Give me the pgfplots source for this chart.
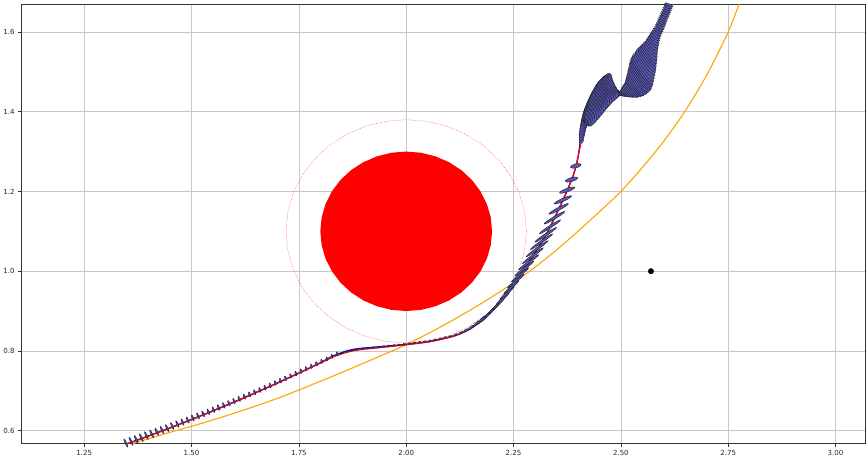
\documentclass[border=0pt]{standalone}
\usepackage{pgfplots}
\pgfplotsset{compat=1.18}
\usepackage{pgfplotstable}
\usepackage{fontspec}
\setmainfont{DejaVu Sans}
\definecolor{ellblue}{RGB}{88,88,178}
\definecolor{elledge}{RGB}{25,25,35}
\definecolor{mplorange}{RGB}{255,165,0}

\pgfplotstableread{
x y a b ang
1.335 0.5643 4.5 0.8 115
1.347 0.5689 4.45 0.8 115
1.359 0.5734 4.4 0.8 115
1.371 0.5781 4.35 0.8 115
1.383 0.5827 4.3 0.8 115
1.395 0.5874 4.2 0.8 115
1.407 0.5922 4.1 0.8 115
1.419 0.5970 4.0 0.8 115
1.431 0.6018 3.9 0.8 114
1.443 0.6067 3.8 0.8 114
1.455 0.6116 3.7 0.8 114
1.467 0.6166 3.6 0.8 113
1.479 0.6216 3.5 0.8 113
1.491 0.6267 3.4 0.8 113
1.503 0.6318 3.3 0.8 112
1.515 0.6369 3.2 0.8 112
1.527 0.6421 3.1 0.8 112
1.539 0.6474 3.0 0.8 111
1.551 0.6526 3.0 0.8 111
1.563 0.6580 2.9 0.8 111
1.575 0.6634 2.9 0.8 110
1.587 0.6688 2.8 0.8 110
1.599 0.6742 2.8 0.8 110
1.611 0.6797 2.7 0.8 109
1.623 0.6853 2.7 0.8 109
1.635 0.6909 2.6 0.8 108
1.647 0.6965 2.6 0.8 108
1.659 0.7022 2.5 0.8 107
1.671 0.7080 2.5 0.8 107
1.683 0.7137 2.5 0.8 106
1.695 0.7196 2.4 0.8 106
1.707 0.7254 2.4 0.8 105
1.719 0.7313 2.4 0.8 105
1.731 0.7373 2.3 0.8 104
1.743 0.7433 2.3 0.8 104
1.755 0.7493 2.3 0.8 103
1.767 0.7554 2.2 0.8 103
1.779 0.7615 2.2 0.8 102
1.791 0.7677 2.2 0.8 102
1.803 0.7740 2.1 0.8 100
1.815 0.7802 2.1 0.8 100
1.827 0.7865 2.0 0.8 100
1.839 0.7929 2.0 0.8 100
1.851 0.7947 1.8 0.8 15
1.863 0.7988 1.8 0.8 15
1.875 0.8018 1.8 0.8 15
1.887 0.8040 1.8 0.8 15
1.899 0.8059 1.8 0.8 15
1.911 0.8072 1.8 0.8 15
1.923 0.8085 1.8 0.8 15
1.935 0.8098 1.8 0.8 15
1.947 0.8112 1.8 0.8 15
1.959 0.8126 1.8 0.8 15
1.971 0.8140 1.8 0.8 15
1.983 0.8155 1.8 0.8 15
1.995 0.8169 1.8 0.8 15
2.007 0.8185 1.8 0.8 15
2.019 0.8202 1.8 0.8 15
2.031 0.8218 1.8 0.8 15
2.043 0.8235 1.8 0.8 15
2.055 0.8256 1.8 0.8 15
2.067 0.8282 1.8 0.8 15
2.079 0.8308 1.8 0.8 15
2.091 0.8339 1.8 0.8 15
2.103 0.8369 1.9 0.8 20
2.115 0.8406 2.0 0.8 25
2.127 0.8454 2.3 0.8 30
2.139 0.8514 2.8 0.9 35
2.151 0.8588 3.5 0.9 40
2.163 0.8678 4.5 1.0 45
2.175 0.8778 5.5 1.0 47
2.185 0.8853 7.0 1.0 47
2.195 0.8957 7.5 1.0 46
2.205 0.9070 8.0 1.0 45
2.215 0.9183 8.5 1.0 44
2.225 0.9312 9.0 1.0 43
2.235 0.9455 9.5 1.0 42
2.245 0.9598 10.0 1.0 41
2.255 0.9749 10.5 1.0 40
2.265 0.9906 11.0 1.0 39
2.275 1.0064 12.0 1.0 38
2.285 1.0221 12.5 1.0 37
2.295 1.0388 13.0 1.1 37
2.305 1.0563 13.5 1.1 36
2.315 1.0738 13.5 1.1 35
2.325 1.0913 13.0 1.2 34
2.335 1.1113 12.5 1.2 33
2.345 1.1338 12.0 1.3 31
2.355 1.1563 11.0 1.4 28
2.365 1.1788 9.5 1.5 24
2.375 1.2033 8.0 1.7 20
2.385 1.2298 6.5 1.9 16
2.395 1.2640 5.5 2.0 14
2.4079 1.3275 3.0 2.0 65
2.4091 1.3375 4.5 2.2 65
2.4102 1.3476 6.0 2.4 65
2.4126 1.3589 7.5 2.6 66
2.4149 1.3703 9.0 2.8 66
2.4173 1.3804 10.5 3.0 67
2.4196 1.3904 12.0 3.0 67
2.4219 1.4005 14.0 3.0 68
2.4243 1.4106 16.0 3.0 68
2.4266 1.4156 17.5 3.0 69
2.4290 1.4207 19.0 3.0 69
2.4313 1.4232 20.5 3.0 70
2.4336 1.4257 22.0 3.0 70
2.4371 1.4270 24.0 3.0 70
2.4406 1.4282 26.0 3.0 70
2.4442 1.4288 27.0 3.0 70
2.4477 1.4295 28.0 3.0 70
2.4512 1.4301 28.0 3.0 70
2.4547 1.4307 27.0 3.0 70
2.4582 1.4314 25.0 3.0 70
2.4617 1.4320 22.0 3.0 70
2.4652 1.4332 19.5 3.0 70
2.4687 1.4345 17.0 3.0 69
2.4722 1.4358 14.5 3.0 68
2.4757 1.4370 12.0 3.0 67
2.4792 1.4383 10.0 2.8 66
2.4827 1.4395 8.0 2.6 65
2.4863 1.4408 6.5 2.4 64
2.4898 1.4421 5.0 2.2 63
2.4933 1.4433 3.5 2.0 62
2.4968 1.4446 2.0 1.5 60
2.4991 1.4446 2.0 1.5 -45
2.5020 1.4452 3.0 1.8 -46
2.5050 1.4458 4.0 2.0 -48
2.5079 1.4471 5.0 2.1 -49
2.5108 1.4484 6.0 2.2 -50
2.5143 1.4503 7.0 2.3 -51
2.5178 1.4521 8.0 2.5 -52
2.5213 1.4540 9.0 2.5 -52
2.5249 1.4559 10.0 2.5 -53
2.5272 1.4591 11.0 2.5 -53
2.5295 1.4622 12.0 2.5 -54
2.5319 1.4654 13.0 2.5 -54
2.5342 1.4685 14.0 2.5 -55
2.5366 1.4729 15.0 2.5 -55
2.5389 1.4773 15.8 2.5 -55
2.5412 1.4817 16.5 2.5 -55
2.5436 1.4861 17.2 2.5 -55
2.5453 1.4906 17.8 2.5 -55
2.5471 1.4950 18.0 2.5 -55
2.5488 1.4994 18.0 2.5 -55
2.5506 1.5038 17.8 2.5 -55
2.5529 1.5101 17.2 2.5 -55
2.5553 1.5164 16.5 2.5 -55
2.5576 1.5227 15.8 2.5 -54
2.5599 1.5290 15.0 2.5 -54
2.5617 1.5340 14.0 2.4 -53
2.5635 1.5390 13.0 2.3 -52
2.5652 1.5441 12.0 2.3 -51
2.5670 1.5491 11.0 2.2 -50
2.5687 1.5548 10.0 2.1 -48
2.5705 1.5605 9.0 2.0 -47
2.5722 1.5661 8.2 1.9 -45
2.5740 1.5718 7.5 1.8 -44
2.5757 1.5768 7.0 1.7 -42
2.5775 1.5819 6.5 1.6 -40
2.5792 1.5869 6.0 1.5 -38
2.5810 1.5919 5.7 1.4 -36
2.5833 1.5970 5.4 1.3 -34
2.5857 1.6020 5.2 1.2 -32
2.5880 1.6071 5.0 1.2 -31
2.5904 1.6121 4.9 1.2 -30
2.5923 1.6171 4.8 1.2 -29
2.5943 1.6222 4.8 1.2 -28
2.5962 1.6272 4.7 1.2 -27
2.5981 1.6322 4.7 1.2 -27
2.6001 1.6373 4.6 1.2 -26
2.6021 1.6423 4.6 1.2 -26
2.6041 1.6474 4.5 1.2 -25
2.6060 1.6524 4.5 1.2 -25
2.6079 1.6574 4.5 1.2 -25
2.6098 1.6625 4.5 1.2 -25
2.6118 1.6675 4.5 1.2 -25
2.6138 1.6725 4.5 1.2 -25
2.6155 1.6776 4.5 1.2 -25
}\ellipses

\pgfplotstableread{
x y
1.330 0.5617
1.350 0.5670
1.400 0.5864
1.450 0.6066
1.500 0.6275
1.550 0.6492
1.600 0.6717
1.650 0.6950
1.700 0.7190
1.750 0.7438
1.800 0.7694
1.830 0.7851
1.860 0.7960
1.880 0.8010
1.900 0.8040
1.950 0.8095
2.000 0.8155
2.050 0.8225
2.080 0.8290
2.110 0.8370
2.130 0.8450
2.150 0.8560
2.170 0.8710
2.190 0.8900
2.220 0.9240
2.250 0.9670
2.290 1.0300
2.330 1.1000
2.370 1.1900
2.390 1.2430
2.400 1.2850
2.4079 1.3275
2.4149 1.3703
2.4243 1.4106
2.4336 1.4257
2.4477 1.4295
2.4617 1.4320
2.4757 1.4370
2.4898 1.4421
2.4991 1.4446
2.5108 1.4484
2.5249 1.4559
2.5342 1.4685
2.5436 1.4861
2.5506 1.5038
2.5599 1.5290
2.5670 1.5491
2.5740 1.5718
2.5810 1.5919
2.5904 1.6121
2.6021 1.6423
2.6138 1.6725
2.6173 1.6826
}\truepath

\pgfplotstableread{
x y
1.330 0.5620
1.350 0.5675
1.400 0.5870
1.450 0.6072
1.500 0.6282
1.550 0.6500
1.600 0.6725
1.650 0.6958
1.700 0.7198
1.750 0.7446
1.800 0.7705
1.830 0.7875
1.860 0.7995
1.880 0.8045
1.900 0.8070
1.950 0.8115
2.000 0.8160
2.050 0.8225
2.080 0.8290
2.110 0.8370
2.130 0.8450
2.150 0.8560
2.170 0.8710
2.190 0.8900
2.220 0.9240
2.250 0.9670
2.290 1.0300
2.330 1.1000
2.370 1.1900
2.390 1.2430
2.400 1.2850
2.4060 1.3275
2.4125 1.3703
2.4215 1.4106
2.4320 1.4240
2.4477 1.4285
2.4617 1.4315
2.4757 1.4370
2.4898 1.4421
2.4991 1.4446
2.5108 1.4484
2.5249 1.4559
2.5342 1.4685
2.5436 1.4861
2.5506 1.5038
2.5599 1.5290
2.5670 1.5491
2.5740 1.5718
2.5810 1.5919
2.5904 1.6121
2.6021 1.6423
2.6138 1.6725
2.6173 1.6826
}\estpath

\pgfplotstableread{
x y
1.355 0.565
1.40 0.580
1.45 0.596
1.50 0.611
1.55 0.627
1.60 0.644
1.65 0.662
1.70 0.681
1.75 0.702
1.80 0.724
1.85 0.746
1.90 0.769
1.95 0.792
2.00 0.816
2.05 0.843
2.10 0.872
2.15 0.903
2.20 0.936
2.25 0.971
2.30 1.010
2.35 1.053
2.40 1.100
2.45 1.149
2.50 1.200
2.55 1.260
2.60 1.326
2.65 1.402
2.70 1.492
2.75 1.600
2.78 1.684
}\orangecurve

\begin{document}
\begin{tikzpicture}
\begin{axis}[
  width=841pt, height=438pt, scale only axis,
  xmin=1.103, xmax=3.07, ymin=0.567, ymax=1.67,
  xtick={1.25,1.5,1.75,2,2.25,2.5,2.75,3},
  ytick={0.6,0.8,1.0,1.2,1.4,1.6},
  xticklabel style={/pgf/number format/fixed,/pgf/number format/fixed zerofill,/pgf/number format/precision=2},
  yticklabel style={/pgf/number format/fixed,/pgf/number format/fixed zerofill,/pgf/number format/precision=1},
  /pgf/number format/assume math mode=true,
  tick label style={font=\fontsize{7}{8}\selectfont, text=black!85},
  grid=major, grid style={color=black!22, line width=0.6pt},
  tick align=outside, tick pos=left, major tick length=3pt,
  tick style={black!80, line width=0.6pt},
  axis line style={black!80, line width=0.8pt},
]
% filled circle
\addplot[fill=red, draw=none] coordinates {
(2.2,1.1) (2.1970,1.1347) (2.1879,1.1684) (2.1732,1.2) (2.1532,1.2286) (2.1286,1.2532)
(2.1,1.2732) (2.0684,1.2879) (2.0347,1.2970) (2.0,1.3) (1.9653,1.2970) (1.9316,1.2879)
(1.9,1.2732) (1.8714,1.2532) (1.8468,1.2286) (1.8268,1.2) (1.8121,1.1684) (1.8030,1.1347)
(1.8,1.1) (1.8030,1.0653) (1.8121,1.0316) (1.8268,1.0) (1.8468,0.9714) (1.8714,0.9468)
(1.9,0.9268) (1.9316,0.9121) (1.9653,0.9030) (2.0,0.9) (2.0347,0.9030) (2.0684,0.9121)
(2.1,0.9268) (2.1286,0.9468) (2.1532,0.9714) (2.1732,1.0) (2.1879,1.0316) (2.1970,1.0653)
(2.2,1.1)} -- cycle;
% dotted circle
\addplot[red!70, line width=0.5pt, dash pattern=on 0.6pt off 1.1pt] coordinates {
(2.28,1.1) (2.2757,1.1486) (2.2631,1.1958) (2.2425,1.24) (2.2145,1.28) (2.18,1.3145)
(2.14,1.3425) (2.0958,1.3631) (2.0486,1.3757) (2.0,1.38) (1.9514,1.3757) (1.9042,1.3631)
(1.86,1.3425) (1.82,1.3145) (1.7855,1.28) (1.7575,1.24) (1.7369,1.1958) (1.7243,1.1486)
(1.72,1.1) (1.7243,1.0514) (1.7369,1.0042) (1.7575,0.96) (1.7855,0.92) (1.82,0.8855)
(1.86,0.8575) (1.9042,0.8369) (1.9514,0.8243) (2.0,0.82) (2.0486,0.8243) (2.0958,0.8369)
(2.14,0.8575) (2.18,0.8855) (2.2145,0.92) (2.2425,0.96) (2.2631,1.0042) (2.2757,1.0514)
(2.28,1.1)};
% covariance ellipses
\addplot[
  scatter, only marks, mark=*, mark size=1pt,
  visualization depends on={\thisrow{a} \as \ea},
  visualization depends on={\thisrow{b} \as \eb},
  visualization depends on={\thisrow{ang} \as \eang},
  scatter/@pre marker code/.code={\begin{scope}[rotate=\eang, xscale=\ea, yscale=\eb, draw=elledge, fill=ellblue, line width=0.4pt]},
  scatter/@post marker code/.code={\end{scope}},
] table[x=x, y=y] {\ellipses};
% orange curve
\addplot[mplorange, line width=1.1pt, smooth] table[x=x, y=y] {\orangecurve};
% estimated path
\addplot[blue, line width=1.3pt, smooth, tension=0.4] table[x=x, y=y] {\estpath};
% true path
\addplot[red, line width=1.2pt, smooth, tension=0.4] table[x=x, y=y] {\truepath};
% point
\addplot[only marks, mark=*, mark size=2.7pt, black] coordinates {(2.57,1.0)};
\end{axis}
\path (current axis.north) ++(0,4pt);
\end{tikzpicture}
\end{document}
